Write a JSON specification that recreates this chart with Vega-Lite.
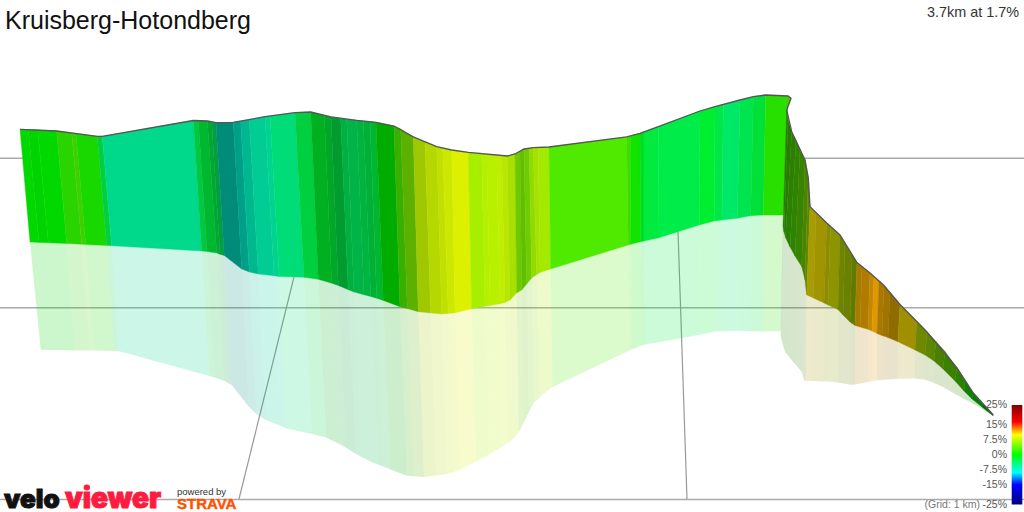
{"$schema":"https://vega.github.io/schema/vega-lite/v6.json","width":1024,"height":512,"padding":0,"autosize":{"type":"none"},"background":"white","config":{"view":{"stroke":null},"font":"Liberation Sans"},
"data":{"name":"segments","values":[
{"seg":0,"c":"#00d800","wx":[20,28.3,39,30],"wy":[129.3,129.5,242.4,242],"sx":[30,39,49,40.7],"sy":[242,242.4,349.9,349.7]},
{"seg":1,"c":"#00d400","wx":[28.3,37.7,48.3,39],"wy":[129.5,129.8,242.8,242.4],"sx":[39,48.3,58,49],"sy":[242.4,242.8,350.1,349.9]},
{"seg":2,"c":"#00d800","wx":[37.7,56.7,66.7,48.3],"wy":[129.8,131,243.6,242.8],"sx":[48.3,66.7,75,58],"sy":[242.8,243.6,350.4,350.1]},
{"seg":3,"c":"#2ad400","wx":[56.7,71.7,81.7,66.7],"wy":[131,133,244.2,243.6],"sx":[66.7,81.7,90,75],"sy":[243.6,244.2,350.6,350.4]},
{"seg":4,"c":"#40d000","wx":[71.7,76,85.7,81.7],"wy":[133,133.7,244.5,244.2],"sx":[81.7,85.7,94,90],"sy":[244.2,244.5,350.6,350.6]},
{"seg":5,"c":"#18d800","wx":[76,97.3,106.7,85.7],"wy":[133.7,136.3,245.4,244.5],"sx":[85.7,106.7,114,94],"sy":[244.5,245.4,350.9,350.6]},
{"seg":6,"c":"#00d040","wx":[97.3,102.3,111.7,106.7],"wy":[136.3,136.3,245.7,245.4],"sx":[106.7,111.7,118.3,114],"sy":[245.4,245.7,351,350.9]},
{"seg":7,"c":"#00d98b","wx":[102.3,193.3,201.7,111.7],"wy":[136.3,120.5,251,245.7],"sx":[111.7,201.7,209.5,118.3],"sy":[245.7,251,376,351]},
{"seg":8,"c":"#00c840","wx":[193.3,198.3,207,201.7],"wy":[120.5,120.7,251.5,251],"sx":[201.7,207,214.5,209.5],"sy":[251,251.5,377.5,376]},
{"seg":9,"c":"#00b830","wx":[198.3,207.3,216.7,207],"wy":[120.7,121,253,251.5],"sx":[207,216.7,224,214.5],"sy":[251.5,253,380.8,377.5]},
{"seg":10,"c":"#00a830","wx":[207.3,211.7,220,216.7],"wy":[121,122,254.3,253],"sx":[216.7,220,227.5,224],"sy":[253,254.3,382.8,380.8]},
{"seg":11,"c":"#00a040","wx":[211.7,216,224.3,220],"wy":[122,122.7,255.5,254.3],"sx":[220,224.3,231.7,227.5],"sy":[254.3,255.5,385,382.8]},
{"seg":12,"c":"#008c78","wx":[216,233.3,241.7,224.3],"wy":[122.7,122.3,269,255.5],"sx":[224.3,241.7,249,231.7],"sy":[255.5,269,407,385]},
{"seg":13,"c":"#00a088","wx":[233.3,240.7,249.3,241.7],"wy":[122.3,121,272,269],"sx":[241.7,249.3,256.5,249],"sy":[269,272,414,407]},
{"seg":14,"c":"#00b890","wx":[240.7,249.3,258.3,249.3],"wy":[121,119.5,274,272],"sx":[249.3,258.3,266,256.5],"sy":[272,274,420,414]},
{"seg":15,"c":"#00cc94","wx":[249.3,265,274,258.3],"wy":[119.5,116.7,275.8,274],"sx":[258.3,274,281.7,266],"sy":[274,275.8,426.3,420]},
{"seg":16,"c":"#00d490","wx":[265,270,279.3,274],"wy":[116.7,116,276.5,275.8],"sx":[274,279.3,287,281.7],"sy":[275.8,276.5,428.4,426.3]},
{"seg":17,"c":"#00dc78","wx":[270,295,304,279.3],"wy":[116,112.7,277.3,276.5],"sx":[279.3,304,312,287],"sy":[276.5,277.3,434,428.4]},
{"seg":18,"c":"#00d040","wx":[295,310.7,318.3,304],"wy":[112.7,112,279.3,277.3],"sx":[304,318.3,326,312],"sy":[277.3,279.3,437.4,434]},
{"seg":19,"c":"#00b020","wx":[310.7,324.3,331.7,318.3],"wy":[112,115.3,283.2,279.3],"sx":[318.3,331.7,339.5,326],"sy":[279.3,283.2,444,437.4]},
{"seg":20,"c":"#00a828","wx":[324.3,331,338.3,331.7],"wy":[115.3,116.9,285.5,283.2],"sx":[331.7,338.3,346,339.5],"sy":[283.2,285.5,447.7,444]},
{"seg":21,"c":"#009c30","wx":[331,340.7,348.3,338.3],"wy":[116.9,118.5,289.7,285.5],"sx":[338.3,348.3,356,346],"sy":[285.5,289.7,454,447.7]},
{"seg":22,"c":"#00b040","wx":[340.7,346.7,354,348.3],"wy":[118.5,119.2,292,289.7],"sx":[348.3,354,361.5,356],"sy":[289.7,292,457,454]},
{"seg":23,"c":"#00b448","wx":[346.7,356.7,364,354],"wy":[119.2,120.3,294.7,292],"sx":[354,364,371.5,361.5],"sy":[292,294.7,462,457]},
{"seg":24,"c":"#00b440","wx":[356.7,363.3,370.7,364],"wy":[120.3,120.9,296.4,294.7],"sx":[364,370.7,378,371.5],"sy":[294.7,296.4,464.5,462]},
{"seg":25,"c":"#00b038","wx":[363.3,370,376.7,370.7],"wy":[120.9,121.5,298.3,296.4],"sx":[370.7,376.7,384,378],"sy":[296.4,298.3,466.8,464.5]},
{"seg":26,"c":"#00b830","wx":[370,376,383.3,376.7],"wy":[121.5,122.3,300.5,298.3],"sx":[376.7,383.3,390.5,384],"sy":[298.3,300.5,469.4,466.8]},
{"seg":27,"c":"#00ac00","wx":[376,394,400,383.3],"wy":[122.3,126,306.7,300.5],"sx":[383.3,400,407,390.5],"sy":[300.5,306.7,475.7,469.4]},
{"seg":28,"c":"#38b000","wx":[394,400.7,407.3,400],"wy":[126,129,308.6,306.7],"sx":[400,407.3,414,407],"sy":[306.7,308.6,476.3,475.7]},
{"seg":29,"c":"#5cb000","wx":[400.7,413.3,418.3,407.3],"wy":[129,136.9,311.7,308.6],"sx":[407.3,418.3,424,414],"sy":[308.6,311.7,477,476.3]},
{"seg":30,"c":"#a0c800","wx":[413.3,425,430.7,418.3],"wy":[136.9,141.7,312.9,311.7],"sx":[418.3,430.7,436,424],"sy":[311.7,312.9,475.5,477]},
{"seg":31,"c":"#b4d800","wx":[425,436.7,441.7,430.7],"wy":[141.7,146.6,314,312.9],"sx":[430.7,441.7,447,436],"sy":[312.9,314,473.9,475.5]},
{"seg":32,"c":"#c0e000","wx":[436.7,442.7,448.3,441.7],"wy":[146.6,148,313.4,314],"sx":[441.7,448.3,453,447],"sy":[314,313.4,472.2,473.9]},
{"seg":33,"c":"#cce800","wx":[442.7,451.7,455,448.3],"wy":[148,150,312.7,313.4],"sx":[448.3,455,460,453],"sy":[313.4,312.7,469.4,472.2]},
{"seg":34,"c":"#dcf000","wx":[451.7,468.3,471.7,455],"wy":[150,152.3,308.7,312.7],"sx":[455,471.7,476,460],"sy":[312.7,308.7,461.6,469.4]},
{"seg":35,"c":"#a8ee00","wx":[468.3,481.7,485,471.7],"wy":[152.3,153.6,306.3,308.7],"sx":[471.7,485,489,476],"sy":[308.7,306.3,454.4,461.6]},
{"seg":36,"c":"#b4f000","wx":[481.7,486.7,490,485],"wy":[153.6,154,305.4,306.3],"sx":[485,490,494,489],"sy":[306.3,305.4,451.6,454.4]},
{"seg":37,"c":"#b8f000","wx":[486.7,496.7,500,490],"wy":[154,155,303.8,305.4],"sx":[490,500,503,494],"sy":[305.4,303.8,446,451.6]},
{"seg":38,"c":"#c0ee00","wx":[496.7,501.7,505,500],"wy":[155,155.5,302.5,303.8],"sx":[500,505,508,503],"sy":[303.8,302.5,442.8,446]},
{"seg":39,"c":"#b8e800","wx":[501.7,507.3,510,505],"wy":[155.5,156,300,302.5],"sx":[505,510,513,508],"sy":[302.5,300,439.3,442.8]},
{"seg":40,"c":"#a8e000","wx":[507.3,515,516.7,510],"wy":[156,154,293,300],"sx":[510,516.7,519,513],"sy":[300,293,431.7,439.3]},
{"seg":41,"c":"#70c800","wx":[515,520,521.7,516.7],"wy":[154,151.5,290,293],"sx":[516.7,521.7,524,519],"sy":[293,290,422,431.7]},
{"seg":42,"c":"#60c000","wx":[520,524,526.7,521.7],"wy":[151.5,149,284,290],"sx":[521.7,526.7,529,524],"sy":[290,284,412,422]},
{"seg":43,"c":"#70cc00","wx":[524,529.3,531.7,526.7],"wy":[149,148.3,278,284],"sx":[526.7,531.7,534,529],"sy":[284,278,402.5,412]},
{"seg":44,"c":"#90dc00","wx":[529.3,533.3,536.7,531.7],"wy":[148.3,147.7,274.5,278],"sx":[531.7,536.7,539,534],"sy":[278,274.5,398.8,402.5]},
{"seg":45,"c":"#a8e000","wx":[533.3,538.3,540,536.7],"wy":[147.7,147.4,272.5,274.5],"sx":[536.7,540,542,539],"sy":[274.5,272.5,395,398.8]},
{"seg":46,"c":"#a4ea00","wx":[538.3,549,550.7,540],"wy":[147.4,147,269,272.5],"sx":[540,550.7,552.5,542],"sy":[272.5,269,387,395]},
{"seg":47,"c":"#50ea00","wx":[549,626.7,628.3,550.7],"wy":[147,136.9,245,269],"sx":[550.7,628.3,629,552.5],"sy":[269,245,350.7,387]},
{"seg":48,"c":"#40dc00","wx":[626.7,630.7,630.7,628.3],"wy":[136.9,135.9,244.3,245],"sx":[628.3,630.7,631.5,629],"sy":[245,244.3,349.6,350.7]},
{"seg":49,"c":"#10e400","wx":[630.7,640,640.7,630.7],"wy":[135.9,133.3,241.7,244.3],"sx":[630.7,640.7,641.5,631.5],"sy":[244.3,241.7,345.6,349.6]},
{"seg":50,"c":"#00dc20","wx":[640,644,644,640.7],"wy":[133.3,131.8,241,241.7],"sx":[640.7,644,645,641.5],"sy":[241.7,241,344.6,345.6]},
{"seg":51,"c":"#00ea40","wx":[644,658.3,659,644],"wy":[131.8,126.7,237.7,241],"sx":[644,659,660,645],"sy":[241,237.7,341.9,344.6]},
{"seg":52,"c":"#00ec48","wx":[658.3,700,699.3,659],"wy":[126.7,111,225,237.7],"sx":[659,699.3,700,660],"sy":[237.7,225,334.7,341.9]},
{"seg":53,"c":"#00ee30","wx":[700,715,714.3,699.3],"wy":[111,106.7,221,225],"sx":[699.3,714.3,715,700],"sy":[225,221,331.6,334.7]},
{"seg":54,"c":"#00e848","wx":[715,723.3,722,714.3],"wy":[106.7,104.5,220,221],"sx":[714.3,722,722.5,715],"sy":[221,220,331.3,331.6]},
{"seg":55,"c":"#00e868","wx":[723.3,740,737.3,722],"wy":[104.5,100,218.3,220],"sx":[722,737.3,737.5,722.5],"sy":[220,218.3,330.7,331.3]},
{"seg":56,"c":"#00e450","wx":[740,753.3,750.7,737.3],"wy":[100,96.7,215.7,218.3],"sx":[737.3,750.7,751,737.5],"sy":[218.3,215.7,331.3,330.7]},
{"seg":57,"c":"#00e038","wx":[753.3,765.7,763.3,750.7],"wy":[96.7,95,215,215.7],"sx":[750.7,763.3,763,751],"sy":[215.7,215,331.5,331.3]},
{"seg":58,"c":"#28e000","wx":[765.7,788,783.3,763.3],"wy":[95,96,215,215],"sx":[763.3,783.3,781,763],"sy":[215,215,331,331.5]},
{"seg":59,"c":"#50c800","wx":[788,791,787,787],"wy":[96,98.3,110,100],"sx":[783,783,783,783],"sy":[215,215,215,215]},
{"seg":60,"c":"#2c7c00","wx":[786.7,788,784,783],"wy":[110,120,232,226],"sx":[783,784,783,780.7],"sy":[215,232,345,336.7]},
{"seg":61,"c":"#247c00","wx":[788,791.7,785.5,784],"wy":[120,131.7,237.5,232],"sx":[784,785.5,785,783],"sy":[232,237.5,351.7,345]},
{"seg":62,"c":"#2c8000","wx":[791.7,796,790,785.5],"wy":[131.7,140.5,247,237.5],"sx":[785.5,790,790,785],"sy":[237.5,247,358,351.7]},
{"seg":63,"c":"#2e8400","wx":[796,800,795,790],"wy":[140.5,150,256,247],"sx":[790,795,795,790],"sy":[247,256,364,358]},
{"seg":64,"c":"#388400","wx":[800,805,801.7,795],"wy":[150,160,266.7,256],"sx":[795,801.7,801.7,795],"sy":[256,266.7,371.7,364]},
{"seg":65,"c":"#4a8400","wx":[805,808.3,805,801.7],"wy":[160,178,280,266.7],"sx":[801.7,805,804.3,801.7],"sy":[266.7,280,380.7,371.7]},
{"seg":66,"c":"#5c8800","wx":[808.3,810,806.7,805],"wy":[178,206.7,295,280],"sx":[805,806.7,806,804.3],"sy":[280,295,380.8,380.7]},
{"seg":67,"c":"#a89c00","wx":[810,816,813.3,806.7],"wy":[206.7,212.5,298,295],"sx":[806.7,813.3,813,806],"sy":[295,298,381,380.8]},
{"seg":68,"c":"#a09400","wx":[816,826.7,824,813.3],"wy":[212.5,223,303,298],"sx":[813.3,824,824,813],"sy":[298,303,381.4,381]},
{"seg":69,"c":"#8c8c00","wx":[826.7,830.5,828,824],"wy":[223,226.5,305,303],"sx":[824,828,828,824],"sy":[303,305,381.5,381.4]},
{"seg":70,"c":"#8c9400","wx":[830.5,840,838,828],"wy":[226.5,235,309.5,305],"sx":[828,838,838,828],"sy":[305,309.5,382.5,381.5]},
{"seg":71,"c":"#6c8400","wx":[840,845,843,838],"wy":[235,243.5,315,309.5],"sx":[838,843,843,838],"sy":[309.5,315,383.5,382.5]},
{"seg":72,"c":"#6c8000","wx":[845,852,850,843],"wy":[243.5,255,322,315],"sx":[843,850,850,843],"sy":[315,322,384.8,383.5]},
{"seg":73,"c":"#607c00","wx":[852,857,855,850],"wy":[255,262.5,325.5,322],"sx":[850,855,855,850],"sy":[322,325.5,384.4,384.8]},
{"seg":74,"c":"#a87c00","wx":[857,862,860,855],"wy":[262.5,266.5,327,325.5],"sx":[855,860,860,855],"sy":[325.5,327,383.5,384.4]},
{"seg":75,"c":"#b07c00","wx":[862,870,868,860],"wy":[266.5,273,329.3,327],"sx":[860,868,868,860],"sy":[327,329.3,382,383.5]},
{"seg":76,"c":"#c48800","wx":[870,874,872,868],"wy":[273,276.5,331,329.3],"sx":[868,872,872,868],"sy":[329.3,331,381,382]},
{"seg":77,"c":"#e09800","wx":[874,879,877,872],"wy":[276.5,280.5,333.5,331],"sx":[872,877,877,872],"sy":[331,333.5,380.5,381]},
{"seg":78,"c":"#a87800","wx":[879,884,882,877],"wy":[280.5,285.5,335.5,333.5],"sx":[877,882,882,877],"sy":[333.5,335.5,380,380.5]},
{"seg":79,"c":"#a07400","wx":[884,890,888,882],"wy":[285.5,292.5,337.5,335.5],"sx":[882,888,888,882],"sy":[335.5,337.5,379.5,380]},
{"seg":80,"c":"#906c00","wx":[890,900,898,888],"wy":[292.5,304.5,341.7,337.5],"sx":[888,898,898,888],"sy":[337.5,341.7,378.8,379.5]},
{"seg":81,"c":"#a09000","wx":[900,917,915,898],"wy":[304.5,321.5,350,341.7],"sx":[898,915,915,898],"sy":[341.7,350,378.5,378.8]},
{"seg":82,"c":"#708800","wx":[917,927,925,915],"wy":[321.5,332,355,350],"sx":[915,925,925,915],"sy":[350,355,379.8,378.5]},
{"seg":83,"c":"#5c8800","wx":[927,936,934,925],"wy":[332,341.5,361,355],"sx":[925,934,934,925],"sy":[355,361,383,379.8]},
{"seg":84,"c":"#488000","wx":[936,945,943,934],"wy":[341.5,351.5,369,361],"sx":[934,943,943,934],"sy":[361,369,387,383]},
{"seg":85,"c":"#3c8000","wx":[945,957,955,943],"wy":[351.5,368,381,369],"sx":[943,955,955,943],"sy":[369,381,394,387]},
{"seg":86,"c":"#2c8000","wx":[957,965,964,955],"wy":[368,380.5,391,381],"sx":[955,964,964,955],"sy":[381,391,399,394]},
{"seg":87,"c":"#108000","wx":[965,973.3,972,964],"wy":[380.5,393,399,391],"sx":[964,972,972,964],"sy":[391,399,403,399]},
{"seg":88,"c":"#008000","wx":[973.3,983,982,972],"wy":[393,404,407,399],"sx":[972,982,982,972],"sy":[399,407,409,403]},
{"seg":89,"c":"#006800","wx":[983,993.3,993,982],"wy":[404,415,415.7,407],"sx":[982,993,993,982],"sy":[407,415.7,415.7,409]}
]},
"encoding":{"x":{"field":"px","type":"quantitative","scale":{"domain":[0,1024],"nice":false,"zero":false},"axis":null},"y":{"field":"py","type":"quantitative","scale":{"domain":[512,0],"nice":false,"zero":false},"axis":null}},
"layer":[
{"data":{"values":[{"px":0,"py":158.3,"px2":1024,"py2":158.3},{"px":0,"py":307.8,"px2":1024,"py2":307.8},{"px":0,"py":499.5,"px2":1024,"py2":499.5}]},"mark":{"type":"rule","color":"#aaaaaa","strokeWidth":1.4},"encoding":{"x2":{"field":"px2"},"y2":{"field":"py2"}}},
{"data":{"values":[{"px":294,"py":277,"px2":239,"py2":499},{"px":678,"py":231,"px2":687,"py2":499}]},"mark":{"type":"rule","color":"#999999","strokeWidth":1.2},"encoding":{"x2":{"field":"px2"},"y2":{"field":"py2"}}},
{"transform":[{"flatten":["sx","sy"],"as":["px","py"]},{"window":[{"op":"row_number","as":"o"}]}],"mark":{"type":"line","interpolate":"linear-closed","fillOpacity":0.2,"strokeWidth":0},"encoding":{"detail":{"field":"seg"},"order":{"field":"o","type":"quantitative"},"fill":{"field":"c","type":"nominal","scale":null}}},
{"transform":[{"flatten":["wx","wy"],"as":["px","py"]},{"window":[{"op":"row_number","as":"o"}]}],"mark":{"type":"line","interpolate":"linear-closed","strokeWidth":0.4},"encoding":{"detail":{"field":"seg"},"order":{"field":"o","type":"quantitative"},"fill":{"field":"c","type":"nominal","scale":null},"stroke":{"field":"c","type":"nominal","scale":null}}},
{"data":{"values":[{"px":20,"py":129.3,"o":1},{"px":56.7,"py":131,"o":2},{"px":97.3,"py":136.3,"o":3},{"px":102.3,"py":136.3,"o":4},{"px":193.3,"py":120.5,"o":5},{"px":207.3,"py":121,"o":6},{"px":216,"py":122.7,"o":7},{"px":233.3,"py":122.3,"o":8},{"px":265,"py":116.7,"o":9},{"px":295,"py":112.7,"o":10},{"px":310.7,"py":112,"o":11},{"px":331,"py":116.9,"o":12},{"px":356.7,"py":120.3,"o":13},{"px":376,"py":122.3,"o":14},{"px":394,"py":126,"o":15},{"px":413.3,"py":136.9,"o":16},{"px":436.7,"py":146.6,"o":17},{"px":451.7,"py":150,"o":18},{"px":468.3,"py":152.3,"o":19},{"px":507.3,"py":156,"o":20},{"px":515,"py":154,"o":21},{"px":524,"py":149,"o":22},{"px":533.3,"py":147.7,"o":23},{"px":549,"py":147,"o":24},{"px":626.7,"py":136.9,"o":25},{"px":640,"py":133.3,"o":26},{"px":658.3,"py":126.7,"o":27},{"px":700,"py":111,"o":28},{"px":715,"py":106.7,"o":29},{"px":740,"py":100,"o":30},{"px":753.3,"py":96.7,"o":31},{"px":765.7,"py":95,"o":32},{"px":788,"py":96,"o":33},{"px":791,"py":98.3,"o":34},{"px":786.7,"py":110,"o":35},{"px":791.7,"py":131.7,"o":36},{"px":805,"py":160,"o":37},{"px":808.3,"py":178,"o":38},{"px":810,"py":206.7,"o":39},{"px":826.7,"py":223,"o":40},{"px":840,"py":235,"o":41},{"px":857,"py":262.5,"o":42},{"px":870,"py":273,"o":43},{"px":884,"py":285.5,"o":44},{"px":900,"py":304.5,"o":45},{"px":927,"py":332,"o":46},{"px":957,"py":368,"o":47},{"px":973.3,"py":393,"o":48},{"px":993.3,"py":415,"o":49}]},"mark":{"type":"line","color":"#555555","strokeWidth":1.3},"encoding":{"order":{"field":"o","type":"quantitative"}}},
{"data":{"values":[{"px":1011.7,"py":405,"px2":1022.3,"py2":504.5}]},"mark":{"type":"rect","color":{"x1":0,"y1":0,"x2":0,"y2":1,"gradient":"linear","stops":[{"offset":0,"color":"#800000"},{"offset":0.17,"color":"#ff0000"},{"offset":0.3,"color":"#ffff00"},{"offset":0.5,"color":"#00ff00"},{"offset":0.68,"color":"#00ffff"},{"offset":0.8,"color":"#0000ff"},{"offset":1,"color":"#000080"}]}},"encoding":{"x2":{"field":"px2"},"y2":{"field":"py2"}}},
{"data":{"values":[{"t":"Kruisberg-Hotondberg","px":5,"py":21}]},"mark":{"type":"text","align":"left","baseline":"middle","fontSize":25,"color":"#111111"},"encoding":{"text":{"field":"t"}}},
{"data":{"values":[{"t":"3.7km at 1.7%","px":1019,"py":13}]},"mark":{"type":"text","align":"right","baseline":"middle","fontSize":14.4,"color":"#333333"},"encoding":{"text":{"field":"t"}}},
{"data":{"values":[{"t":"25%","px":1007,"py":405},{"t":"15%","px":1007,"py":425},{"t":"7.5%","px":1007,"py":440},{"t":"0%","px":1007,"py":455},{"t":"-7.5%","px":1007,"py":470},{"t":"-15%","px":1007,"py":485},{"t":"-25%","px":1007,"py":505}]},"mark":{"type":"text","align":"right","baseline":"middle","fontSize":10.5,"color":"#555555"},"encoding":{"text":{"field":"t"}}},
{"data":{"values":[{"t":"(Grid: 1 km)","px":980,"py":505}]},"mark":{"type":"text","align":"right","baseline":"middle","fontSize":10.5,"color":"#777777"},"encoding":{"text":{"field":"t"}}},
{"data":{"values":[{"t":"velo","px":4,"py":508}]},"mark":{"type":"text","align":"left","baseline":"alphabetic","font":"Inter","fontWeight":900,"fontSize":26,"color":"#111111","stroke":"#111111","strokeWidth":1},"encoding":{"text":{"field":"t"}}},
{"data":{"values":[{"t":"viewer","px":65,"py":508}]},"mark":{"type":"text","align":"left","baseline":"alphabetic","font":"Inter","fontWeight":900,"fontSize":28,"color":"#ff1a40","stroke":"#ff1a40","strokeWidth":1},"encoding":{"text":{"field":"t"}}},
{"data":{"values":[{"t":"powered by","px":177,"py":492}]},"mark":{"type":"text","align":"left","baseline":"middle","fontSize":9.5,"color":"#333333"},"encoding":{"text":{"field":"t"}}},
{"data":{"values":[{"t":"STRAVA","px":177,"py":509}]},"mark":{"type":"text","align":"left","baseline":"alphabetic","fontWeight":"bold","fontSize":15,"color":"#fc5200","stroke":"#fc5200","strokeWidth":0.4},"encoding":{"text":{"field":"t"}}}
]}
